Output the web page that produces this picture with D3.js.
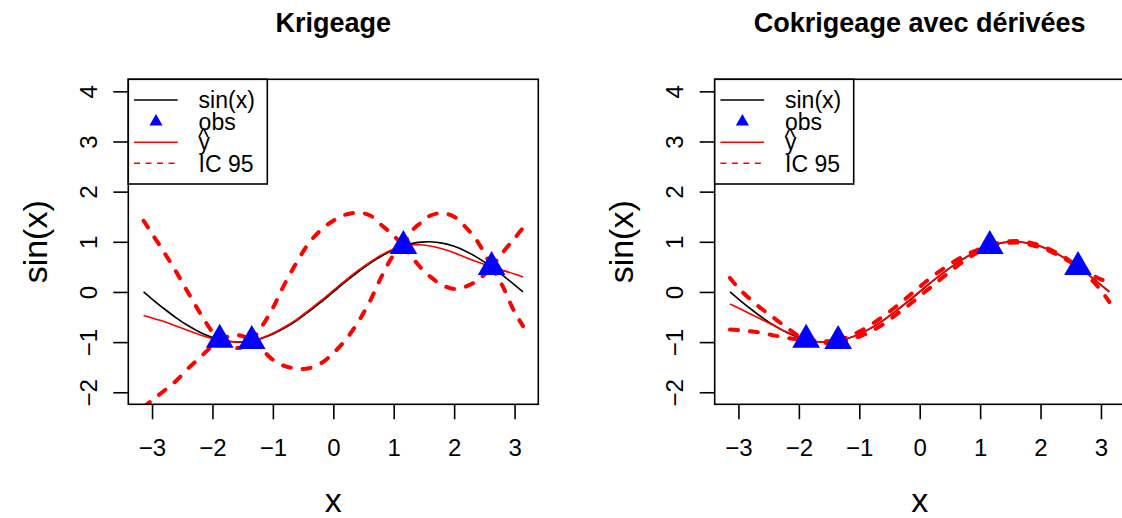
<!DOCTYPE html>
<html><head><meta charset="utf-8">
<script src="https://cdn.jsdelivr.net/npm/d3@7"></script>
<style>
body{margin:0;background:#fff}
svg{display:block}
text{font-family:"Liberation Sans",Arial,Helvetica,sans-serif;fill:#000}
</style>
</head><body>
<svg id="chart" width="1122" height="518"></svg>
<script>
// ---------- data ----------
const xGrid = [-3.14,-3.0,-2.8,-2.6,-2.4,-2.2,-2.0,-1.88,-1.75,-1.6,-1.48,-1.35,-1.2,-1.0,-0.8,-0.6,-0.4,-0.2,0,0.2,0.4,0.6,0.8,1.0,1.16,1.3,1.45,1.6,1.8,2.0,2.2,2.4,2.62,2.8,3.0,3.14];
const sinY = [0.00,-0.141,-0.335,-0.516,-0.675,-0.808,-0.909,-0.953,-0.984,-1.0,-0.996,-0.976,-0.932,-0.841,-0.717,-0.565,-0.389,-0.199,0,0.199,0.389,0.565,0.717,0.841,0.917,0.964,0.993,1.0,0.974,0.909,0.808,0.675,0.498,0.335,0.141,0.00];
const krigMean = [-0.47,-0.52,-0.59,-0.68,-0.77,-0.86,-0.93,-0.953,-0.98,-0.995,-0.995,-0.976,-0.925,-0.825,-0.695,-0.54,-0.36,-0.17,0.03,0.23,0.42,0.59,0.74,0.855,0.917,0.94,0.94,0.915,0.86,0.78,0.68,0.59,0.498,0.43,0.36,0.30];
const krigUpper = [1.42,1.16,0.79,0.40,-0.02,-0.43,-0.80,-0.953,-0.89,-0.86,-0.89,-0.976,-0.72,-0.32,0.17,0.60,0.98,1.24,1.42,1.54,1.58,1.53,1.33,1.12,0.917,1.22,1.38,1.52,1.57,1.50,1.28,0.98,0.498,0.78,1.07,1.28];
const krigLower = [-2.30,-2.16,-1.97,-1.77,-1.52,-1.30,-1.07,-0.953,-1.08,-1.12,-1.09,-0.976,-1.13,-1.35,-1.48,-1.53,-1.52,-1.42,-1.22,-0.96,-0.62,-0.20,0.31,0.74,0.917,0.70,0.48,0.31,0.14,0.06,0.11,0.24,0.498,0.12,-0.40,-0.68];
const cokMean = [-0.24,-0.32,-0.44,-0.56,-0.68,-0.80,-0.90,-0.953,-0.985,-1.0,-0.995,-0.976,-0.93,-0.84,-0.715,-0.56,-0.38,-0.19,0.01,0.205,0.39,0.565,0.715,0.84,0.917,0.965,0.99,1.0,0.97,0.905,0.805,0.675,0.498,0.335,0.14,0.0];
const cokUpper = [0.28,0.08,-0.15,-0.35,-0.53,-0.71,-0.88,-0.953,-0.97,-0.985,-0.98,-0.976,-0.90,-0.79,-0.65,-0.48,-0.30,-0.10,0.10,0.30,0.47,0.63,0.76,0.86,0.917,0.975,1.005,1.015,0.99,0.925,0.82,0.69,0.498,0.37,0.25,0.20];
const cokLower = [-0.75,-0.76,-0.785,-0.82,-0.87,-0.915,-0.945,-0.953,-1.0,-1.015,-1.01,-0.976,-0.96,-0.89,-0.78,-0.64,-0.46,-0.28,-0.08,0.11,0.31,0.50,0.67,0.82,0.917,0.955,0.975,0.985,0.95,0.885,0.79,0.66,0.498,0.30,0.03,-0.20];
const obsX = [-1.88,-1.35,1.16,2.62];
const obsY = [-0.953,-0.976,0.917,0.498];
const xTicks = [-3,-2,-1,0,1,2,3];
const yTicks = [-2,-1,0,1,2,3,4];
const titles = ["Krigeage","Cokrigeage avec dérivées"];
const legendLabels = ["sin(x)","obs","y","IC 95"];
const xLabel = "x", yLabel = "sin(x)";

// ---------- layout ----------
const svg = d3.select("#chart");
const panels = [
  {left:128.3, mean:krigMean, upper:krigUpper, lower:krigLower, title:titles[0]},
  {left:714.7, mean:cokMean, upper:cokUpper, lower:cokLower, title:titles[1]}
];
const plotW = 410, plotTop = 79.3, plotBottom = 404.3;
const xDom = [-Math.PI - 0.08*Math.PI, Math.PI + 0.08*Math.PI];
const yDom = [-2 - 0.24, 4 + 0.24];
const splitIdx = obsX.map(o => xGrid.indexOf(o));
const fmt = d3.format("d");

panels.forEach((p, pi) => {
  const x = d3.scaleLinear().domain(xDom).range([p.left, p.left + plotW]);
  const y = d3.scaleLinear().domain(yDom).range([plotBottom, plotTop]);
  const g = svg.append("g");
  const cx = (p.left + p.left + plotW) / 2;

  const clipId = "clip" + pi;
  svg.append("clipPath").attr("id", clipId).append("rect")
    .attr("x", p.left).attr("y", plotTop).attr("width", plotW).attr("height", plotBottom - plotTop);

  // title
  g.append("text").attr("x", cx).attr("y", 31.5).attr("text-anchor", "middle")
    .attr("font-size", 27).attr("font-weight", "bold").text(p.title);

  // axes
  const xa = g.append("g").attr("transform", `translate(0,${plotBottom})`)
    .call(d3.axisBottom(x).tickValues(xTicks).tickFormat(fmt).tickSize(15).tickPadding(20));
  xa.select(".domain").remove();
  xa.selectAll("line").attr("stroke", "#000").attr("stroke-width", 1.6);
  xa.selectAll("text").attr("font-size", 24).attr("font-family", null).attr("fill", "#000");

  const ya = g.append("g").attr("transform", `translate(${p.left},0)`)
    .call(d3.axisLeft(y).tickValues(yTicks).tickFormat(fmt).tickSize(15));
  ya.select(".domain").remove();
  ya.selectAll("line").attr("stroke", "#000").attr("stroke-width", 1.6);
  ya.selectAll("text").attr("font-size", 24).attr("font-family", null).attr("fill", "#000")
    .attr("x", 0).attr("dy", 0).attr("text-anchor", "middle")
    .attr("transform", `translate(${-31.5},0) rotate(-90)`);

  // axis labels
  g.append("text").attr("x", cx).attr("y", 511.5).attr("text-anchor", "middle")
    .attr("font-size", 34).text(xLabel);
  g.append("text").attr("text-anchor", "middle").attr("font-size", 34)
    .attr("transform", `translate(${p.left - 81.5},${(plotTop + plotBottom) / 2}) rotate(-90)`).text(yLabel);

  const plot = g.append("g").attr("clip-path", `url(#${clipId})`);
  const lineGen = d3.line().x(d => x(d[0])).y(d => y(d[1])).curve(d3.curveCatmullRom.alpha(0.5));

  // sin(x)
  plot.append("path").attr("d", lineGen(xGrid.map((v, i) => [v, sinY[i]])))
    .attr("fill", "none").attr("stroke", "#000").attr("stroke-width", 1.6);

  // observations
  g.selectAll(".obs").data(obsX).enter().append("path")
    .attr("d", d3.symbol(d3.symbolTriangle, 332)())
    .attr("transform", (d, i) => `translate(${x(d)},${y(obsY[i])})`)
    .attr("fill", "#0000ff");

  // mean
  plot.append("path").attr("d", lineGen(xGrid.map((v, i) => [v, p.mean[i]])))
    .attr("fill", "none").attr("stroke", "#ff0000").attr("stroke-width", 1.6);

  // CI (pieces between observations)
  const bounds = [0, ...splitIdx, xGrid.length - 1];
  [p.upper, p.lower].forEach(arr => {
    let dStr = "";
    for (let k = 0; k < bounds.length - 1; k++) {
      const seg = [];
      for (let i = bounds[k]; i <= bounds[k + 1]; i++) seg.push([xGrid[i], arr[i]]);
      dStr += lineGen(seg);
    }
    plot.append("path").attr("d", dStr).attr("fill", "none").attr("stroke", "#ff0000")
      .attr("stroke-width", 4).attr("stroke-linecap", "round").attr("stroke-dasharray", "8,12");
  });

  // box
  g.append("rect").attr("x", p.left).attr("y", plotTop).attr("width", plotW).attr("height", plotBottom - plotTop)
    .attr("fill", "none").attr("stroke", "#000").attr("stroke-width", 1.6);

  // legend
  const lg = g.append("g").attr("transform", `translate(${p.left},${plotTop})`);
  lg.append("rect").attr("x", 0).attr("y", 0).attr("width", 139).attr("height", 104.7)
    .attr("fill", "#fff").attr("stroke", "#000").attr("stroke-width", 1.6);
  const rowY = [20.7, 42.4, 63, 84];
  lg.append("line").attr("x1", 5.7).attr("x2", 49.4).attr("y1", rowY[0]).attr("y2", rowY[0])
    .attr("stroke", "#000").attr("stroke-width", 1.6);
  lg.append("path").attr("d", d3.symbol(d3.symbolTriangle, 75)())
    .attr("transform", `translate(27.7,${rowY[1]})`).attr("fill", "#0000ff");
  lg.append("line").attr("x1", 5.7).attr("x2", 49.4).attr("y1", rowY[2]).attr("y2", rowY[2])
    .attr("stroke", "#ff0000").attr("stroke-width", 1.6);
  lg.append("line").attr("x1", 5.7).attr("x2", 49.4).attr("y1", rowY[3]).attr("y2", rowY[3])
    .attr("stroke", "#ff0000").attr("stroke-width", 1.6).attr("stroke-dasharray", "6,5.5");
  const tx = 70.3;
  lg.append("text").attr("x", tx).attr("y", 29).attr("font-size", 23).text(legendLabels[0]);
  lg.append("text").attr("x", tx).attr("y", 50.7).attr("font-size", 23).text(legendLabels[1]);
  lg.append("text").attr("x", tx).attr("y", 70.5).attr("font-size", 23).text(legendLabels[2]);
  lg.append("text").attr("x", tx - 0.5).attr("y", 65.5).attr("font-size", 23).text("^");
  lg.append("text").attr("x", tx).attr("y", 92.3).attr("font-size", 23).text(legendLabels[3]);
});
</script>
</body></html>
